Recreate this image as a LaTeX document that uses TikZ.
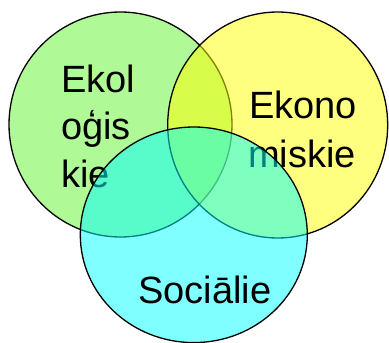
\documentclass[tikz,border=0pt]{standalone}
\usepackage{fontspec}
\setmainfont{Liberation Sans}
\definecolor{ekogreen}{RGB}{175,250,150}
\definecolor{ekoyellow}{RGB}{255,255,0}
\definecolor{ekocyan}{RGB}{0,255,255}
\begin{document}
\begin{tikzpicture}[x=1pt,y=-1pt,
  ring/.style={draw=black,line width=1.3pt},
  lbl/.style={anchor=base west,inner sep=0pt,font=\fontsize{38}{38}\selectfont,text=black}]
\useasboundingbox (0,0) rectangle (389,343);
% green circle (opaque)
\path[ring,fill=ekogreen] (120.5,124.5) ellipse [x radius=111.5, y radius=112.5];
\node[lbl] (ek1) at (61,92) {Ekol};
\node[lbl] (ek2) at (61,139) {oģis};
\node[lbl] (ek3) at (61,187) {kie};
% yellow circle
\path[ring,fill=ekoyellow,fill opacity=0.5] (277.7,125) ellipse [x radius=110, y radius=113];
\node[lbl] (ec1) at (249,118) {Ekono};
\node[lbl] (ec2) at (248,167) {miskie};
% cyan circle
\path[ring,fill=ekocyan,fill opacity=0.5] (193.8,234.8) ellipse [x radius=113.5, y radius=107.8];
\node[lbl] (so) at (138,303) {Sociālie};
\end{tikzpicture}
\end{document}
